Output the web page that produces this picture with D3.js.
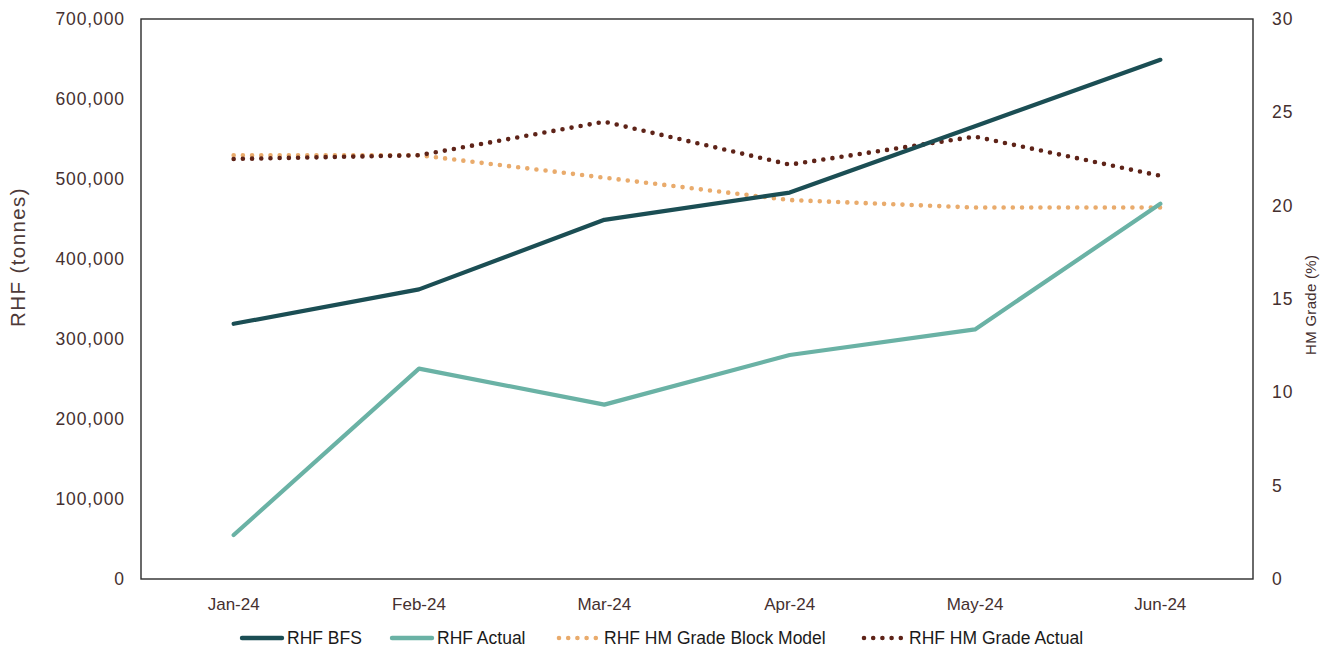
<!DOCTYPE html>
<html>
<head>
<meta charset="utf-8">
<script src="https://cdn.jsdelivr.net/npm/d3@7"></script>
<style>
  html, body { margin: 0; padding: 0; background: #fff; }
  svg { display: block; }
</style>
</head>
<body>
<svg id="chart" width="1333" height="650"></svg>
<script>
// Monthly RHF tonnes and heavy-mineral grade
const months = ["Jan-24", "Feb-24", "Mar-24", "Apr-24", "May-24", "Jun-24"];
const rhfBFS = [319000, 362000, 449000, 483000, 566000, 649000];
const rhfActual = [55000, 263000, 218000, 280000, 312000, 469000];
const gradeBlockModel = [22.7, 22.7, 21.5, 20.3, 19.9, 19.9];
const gradeActual = [22.5, 22.7, 24.5, 22.2, 23.7, 21.6];
const leftTicks = [0, 100000, 200000, 300000, 400000, 500000, 600000, 700000];
const rightTicks = [0, 5, 10, 15, 20, 25, 30];

const svg = d3.select("#chart");
const plot = { left: 141, top: 19, right: 1253, bottom: 579 };
const textColor = "#45302f";
const tickFont = "'Liberation Sans', Arial, sans-serif";

const x = d3.scaleBand().domain(months).range([plot.left, plot.right]);
const yL = d3.scaleLinear().domain([0, 700000]).range([plot.bottom, plot.top]);
const yR = d3.scaleLinear().domain([0, 30]).range([plot.bottom, plot.top]);
const cx = m => x(m) + x.bandwidth() / 2;

// Left axis
const leftAxis = d3.axisLeft(yL).tickValues(leftTicks).tickSize(0).tickPadding(16)
  .tickFormat(d3.format(","));
const gL = svg.append("g").attr("transform", `translate(${plot.left},0)`).call(leftAxis);
gL.select(".domain").remove();
gL.selectAll("text").attr("fill", textColor).style("font-family", tickFont)
  .style("font-size", "17.5px").style("letter-spacing", "0.9px");

// Right axis
const rightAxis = d3.axisRight(yR).tickValues(rightTicks).tickSize(0).tickPadding(19);
const gR = svg.append("g").attr("transform", `translate(${plot.right},0)`).call(rightAxis);
gR.select(".domain").remove();
gR.selectAll("text").attr("fill", textColor).style("font-family", tickFont)
  .style("font-size", "17.5px").style("letter-spacing", "0.9px");

// Bottom axis
const bottomAxis = d3.axisBottom(x).tickSize(0).tickPadding(19);
const gB = svg.append("g").attr("transform", `translate(0,${plot.bottom})`).call(bottomAxis);
gB.select(".domain").remove();
gB.selectAll("text").attr("fill", textColor).style("font-family", tickFont)
  .style("font-size", "17px");

// Plot frame
svg.append("rect")
  .attr("x", plot.left).attr("y", plot.top)
  .attr("width", plot.right - plot.left).attr("height", plot.bottom - plot.top)
  .attr("fill", "none").attr("stroke", "#2b2b2b").attr("stroke-width", 1.4);

// Axis titles
svg.append("text")
  .attr("transform", `translate(25,257) rotate(-90)`)
  .attr("text-anchor", "middle")
  .attr("fill", "#4d3a39").style("font-family", tickFont).style("font-size", "20.5px")
  .style("letter-spacing", "1.4px")
  .text("RHF (tonnes)");
svg.append("text")
  .attr("transform", `translate(1316,305) rotate(-90)`)
  .attr("text-anchor", "middle")
  .attr("fill", textColor).style("font-family", tickFont).style("font-size", "15px")
  .attr("textLength", 100).attr("lengthAdjust", "spacing")
  .text("HM Grade (%)");

// Series
const series = [
  { name: "RHF HM Grade Block Model", values: gradeBlockModel, scale: yR, color: "#e9ab6c", dotted: true },
  { name: "RHF HM Grade Actual", values: gradeActual, scale: yR, color: "#5e2318", dotted: true },
  { name: "RHF Actual", values: rhfActual, scale: yL, color: "#6ab2a5", dotted: false },
  { name: "RHF BFS", values: rhfBFS, scale: yL, color: "#1b4e54", dotted: false }
];

series.forEach(s => {
  const line = d3.line().x((d, i) => cx(months[i])).y(d => s.scale(d));
  const p = svg.append("path")
    .datum(s.values)
    .attr("d", line)
    .attr("fill", "none")
    .attr("stroke", s.color)
    .attr("stroke-linecap", "round")
    .attr("stroke-linejoin", "round");
  if (s.dotted) {
    p.attr("stroke-width", 4.6).attr("stroke-dasharray", "0 9.2");
  } else {
    p.attr("stroke-width", 4.2);
  }
});

// Legend
const legendItems = [
  { name: "RHF BFS", color: "#1b4e54", dotted: false, x: 240 },
  { name: "RHF Actual", color: "#6ab2a5", dotted: false, x: 390 },
  { name: "RHF HM Grade Block Model", color: "#e9ab6c", dotted: true, x: 557 },
  { name: "RHF HM Grade Actual", color: "#5e2318", dotted: true, x: 862 }
];
const legendY = 638;
const lg = svg.append("g");
legendItems.forEach(item => {
  const l = lg.append("line")
    .attr("x1", item.x + 2).attr("x2", item.x + 42)
    .attr("y1", legendY).attr("y2", legendY)
    .attr("stroke", item.color).attr("stroke-linecap", "round");
  if (item.dotted) {
    l.attr("stroke-width", 4.6).attr("stroke-dasharray", "0 9.2");
  } else {
    l.attr("stroke-width", 4.4);
  }
  lg.append("text")
    .attr("x", item.x + 47).attr("y", legendY + 6)
    .attr("fill", "#1a1a1a")
    .style("font-family", "'Liberation Sans Narrow', 'Arial Narrow', sans-serif")
    .style("font-size", "17.5px")
    .text(item.name);
});
</script>
</body>
</html>
